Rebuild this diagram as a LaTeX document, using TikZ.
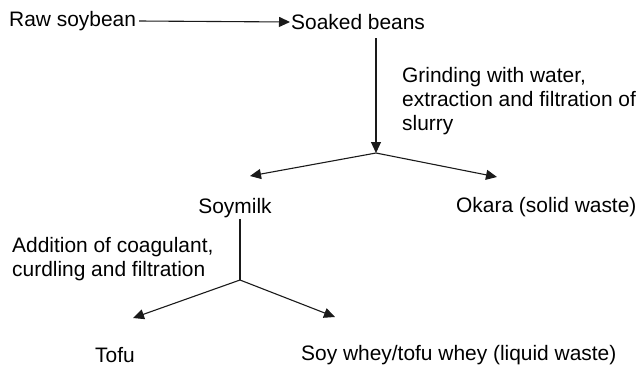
\documentclass[tikz,border=0pt]{standalone}
\usepackage{fontspec}
\setmainfont{Liberation Sans}
\usetikzlibrary{arrows.meta,positioning,calc}
\definecolor{inkgray}{HTML}{1A1A1A}
\tikzset{
  label/.style={font=\fontsize{21}{24}\selectfont, text=black, inner sep=1bp},
  step note/.style={label, align=left, anchor=north west},
  flow/.style={-{Triangle[length=11bp,width=10bp]}, line width=1.1bp, color=inkgray},
  stem/.style={line width=1.1bp, color=inkgray},
}
\begin{document}
\begin{tikzpicture}[x=1bp,y=-1bp]
  \useasboundingbox (0,0) rectangle (639,366);
  % top row
  \node[label, anchor=west] (raw) at (8,21) {Raw soybean};
  \node[label, anchor=west] (soaked) at (290,22) {Soaked beans};
  \draw[flow] ([xshift=2bp]raw.east) -- (soaked.west);
  % grinding
  \coordinate (split1) at (376,153);
  \coordinate (tomilk) at (250,176);
  \coordinate (tookara) at (497,177);
  \draw[flow] (split1 |- 0,38) -- (split1);
  \draw[flow] (split1) -- (tomilk);
  \draw[flow] (split1) -- (tookara);
  \node[step note] (grind) at (401,66) {Grinding with water,\\extraction and filtration of\\slurry};
  \node[label] (milk) at (235,208) {Soymilk};
  \node[label, anchor=west] (okara) at (455,207) {Okara (solid waste)};
  % curdling
  \coordinate (split2) at (240,280);
  \coordinate (totofu) at (133,318);
  \coordinate (towhey) at (335,317);
  \draw[stem] (split2 |- milk.south) -- (split2);
  \draw[flow] (split2) -- (totofu);
  \draw[flow] (split2) -- (towhey);
  \node[step note] (curd) at (11,236) {Addition of coagulant,\\curdling and filtration};
  \node[label] (tofu) at (115,355) {Tofu};
  \node[label, anchor=west] (whey) at (300,355) {Soy whey/tofu whey (liquid waste)};
\end{tikzpicture}
\end{document}
